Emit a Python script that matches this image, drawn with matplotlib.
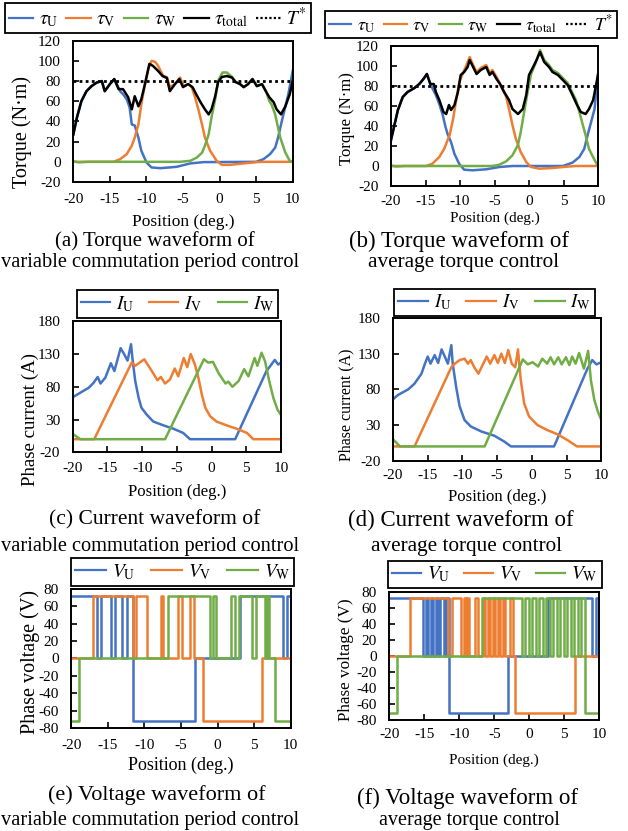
import matplotlib
matplotlib.use("Agg")
import matplotlib.pyplot as plt
from matplotlib.lines import Line2D

plt.rcParams['font.family'] = ['Liberation Serif', 'DejaVu Serif']
plt.rcParams['mathtext.fontset'] = 'stix'
plt.rcParams['axes.unicode_minus'] = False

C_U, C_V, C_W = '#4472C4', '#ED7D31', '#70AD47'

# ---------------- (a) torque, variable commutation period control
pos_a_total = [-20,-19.5,-18.9,-18.2,-17.5,-16.8,-16.1,-15.7,-15,-14.4,-13.8,-13.2,-12.5,-12,-11.6,-11.1,-10.7,-10.2,-9.6,-9.1,
               -8.4,-7.8,-7.2,-6.8,-6.1,-5.5,-5,-4.3,-3.7,-3.2,-2.6,-2,-1.5,-1.1,-0.6,-0.2,0.3,1,1.7,2.2,
               2.8,3.3,3.9,4.5,5.1,5.8,6.4,6.8,7.4,7.8,8.4,9,9.6,10]
tau_a_total = [27,44,60,70,75,78.5,80,70,77,82,72,72,64,52,65,55,62,77,97,95,
               90,85,83,70,77,82,74,77,74,67,59,52,47,52,65,79,84,85,83.5,79,
               77,74,77,82,75,77,69,64,59,52,47,55,67,80]
pos_a_U = [-20,-19.5,-18.9,-18.2,-17.5,-16.8,-16.1,-15.7,-15,-14.4,-13.6,-13.2,-12.7,-12.3,-12,-11.6,-11.1,-10.7,-10,-9.3,
           -8.1,-5.9,-4,-2.2,5,6,6.9,7.6,8,8.5,9,9.4,10]
tau_a_U = [27,44,60,70,75,78.5,80,70,77,82,70,67,62,54,37,36,24,11,-0.6,-5.6,
           -6.3,-5,-1.6,-0.3,0,2.6,7.6,14,24,40,55,67,90]
pos_a_V = [-20,-14.5,-13.6,-12.7,-12,-11.6,-11.1,-10.7,-10.2,-9.7,-9.3,-8.8,-8.4,-7.7,-7.2,-6.8,-6.1,-5.4,-4.9,-4.3,
           -3.8,-3.4,-2.9,-2.4,-2,-1.3,-0.4,0.3,1.4,3.3,5.1,6,10]
tau_a_V = [0,0,2.6,7.6,16,24,37,57,77,93,100,99,95,85,84,74,77,83.5,75,77,
           74,65,52,37,24,11,1,-3,-3,-1.6,-0.3,0,0]
pos_a_W = [-20,-19.3,-18,-5.4,-4,-3.1,-2.4,-2,-1.5,-1.1,-0.6,-0.2,0.4,1,1.7,2.2,2.8,3.3,3.9,4.5,
           5.1,5.8,6.4,6.8,7.1,7.6,7.9,8.3,9,9.6,10]
tau_a_W = [0.5,-0.5,0,0,1,4.3,9,16,27,44,62,80,88.5,88.5,84,79,77,74,77,82,
           75,77,69,60,57,47,37,24,9,1,0]

# ---------------- (b) torque, average torque control
pos_b_total = [-20,-19.5,-19,-18.3,-17.6,-16.6,-15.9,-15.3,-14.8,-14.3,-13.8,-13.5,-13,-12.4,-12,-11.6,-11.3,-10.8,-10.3,-9.9,
               -9.4,-8.9,-8.6,-8.1,-7.6,-7,-6.2,-5.7,-5.3,-4.7,-4.2,-3.6,-2.9,-2.4,-1.6,-0.9,-0.4,0,0.6,1.1,
               1.6,2.2,2.9,3.4,4.2,4.9,5.6,6.3,6.9,7.5,8.2,8.7,9.3,10]
tau_b_total = [26,41,56,69,74,78,82,87,92,82,82,74,66,54,52,61,56,61,74,91,
               94,99,106,99,92,96,99,91,94,87,82,74,66,57,52,57,71,91,99,106,
               114,104,99,94,91,86,81,71,62,54,52,57,66,91]
pos_b_U = [-20,-19.5,-19,-18.3,-17.6,-16.6,-15.9,-15.3,-14.8,-14.3,
           -13.5,-13,-12.5,-12.1,-11.8,-11.3,-10.8,-10.1,-9.4,-8.2,-6.2,-4.3,-2.4,4.9,6.3,7.3,8,8.5,9,9.5,10]
tau_b_U = [26,41,56,69,74,78,82,87,92,82,
           71,62,51,39,32,24,12,2,-3.7,-4.3,-3.3,-1,0,0,3.3,9,17,31,44,57,92]
pos_b_V = [-20,-14.9,-14,-13,-12.3,-11.5,-11,-10.6,-10.1,-9.5,-9,-8.6,-8.1,-7.6,-7,-6.2,-5.7,-5.3,-4.7,-4.1,
           -3.3,-2.8,-2.4,-1.9,-1.2,-0.4,0.3,1.5,3.4,5.4,6.8,10]
tau_b_V = [0,0,2.3,9,17,31,47,64,84,94,102,109,101,94,98,101,93,96,89,81,
           69,54,41,27,14,4,-1,-2.7,-2,-0.7,0,0]
pos_b_W = [-20,-19.3,-18,-5.3,-4.3,-3.3,-2.4,-1.6,-1.2,-0.7,-0.2,0.3,0.9,1.6,2.2,2.9,3.4,4.2,4.9,5.6,
           6.3,6.8,7.3,7.8,8.2,8.7,9.5,10]
tau_b_W = [0.5,-0.5,0,0,1.3,4.7,10.7,21,34,54,74,92,102,116,106,101,96,93,88,83,
           73,66,54,41,31,17,6,0]
T_ref = 80

# ---------------- (c) current, variable commutation period control
pos_c_U = [-20,-18.9,-17.7,-17,-16.4,-16,-15.3,-14.5,-14,-13.1,-12.6,-12.1,-11.6,-11.4,-11,-10.5,-10.1,-9.3,-8.4,-6.9,
           -5.5,-4.1,-3.1,3.4,7.9,9.1,9.6,10]
I_c_U = [64,71,78.5,86,95,85,94,116,104,139,130,120,145,124,89,63,48,37,27,21,
         16,9.6,0,0,104,121,114,117]
pos_c_V = [-20,-16.9,-11.5,-11,-9.7,-8.6,-7.8,-7.3,-6.7,-6,-5.3,-4.8,-4,-3.5,-3,-2.4,-1.9,-1.4,-0.9,-0.2,
           0.7,2.2,3.6,5.1,6,10]
I_c_V = [0,0,117,112,122,104,90,95,85,91,108,96,124,110,130,114,94,68,48,35,
         27,21,16,9.6,0,0]
pos_c_W = [-20,-18.9,-6.7,-1.1,-0.5,0.2,1,2,2.4,3,3.9,4.7,5.3,6.2,6.6,7.2,7.7,8.3,8.9,9.5,10]
I_c_W = [8,0,0,122,117,118,101,85,88,80,89,107,96,124,112,132,119,89,63,45,37]

# ---------------- (d) current, average torque control
pos_d_U = [-20,-19.3,-17.8,-16.9,-15.9,-15.4,-15,-14.6,-14,-13.5,-13,-12.5,-12.1,-11.6,-11.4,-10.9,-10.4,-9.7,-8.8,-7.3,
           -5.4,-4,-3,3.2,8,8.7,9.3,10]
I_d_U = [66,72,80,88,102,116,126,116,128,117,136,125,116,142,116,83,56,37,28,21,
         15,7,0,0,109,121,115,118]
pos_d_V = [-20,-16.9,-11.6,-11.1,-10.4,-9.7,-9.2,-8.8,-8.3,-7.7,-7.1,-6.5,-6,-5.4,-4.9,-4.4,-3.9,-3.4,-2.9,-2.4,
           -2,-1.6,-1.1,-0.4,0.8,2.2,3.7,5.1,6.5,10]
I_d_V = [0,0,111,116,121,123,116,121,111,102,114,126,116,128,117,130,117,135,116,111,
         136,93,60,42,30,23,17,9,0,0]
pos_d_W = [-20,-19,-6.8,-1.3,-0.6,0.1,0.9,1.5,2.2,2.7,3.2,3.8,4.3,4.9,5.4,5.8,6.3,6.8,7.5,8.1,
           8.5,9,9.5,10]
I_d_W = [10,0,0,122,115,118,112,123,116,125,115,125,115,125,114,126,116,131,109,134,
         93,65,49,37]

# ---------------- (e) voltage, variable commutation period control (step, post)
pos_e_U = [-20,-16.5,-16.0,-14.6,-14.0,-13.1,-12.4,-11.6,-3.1,3.1,9.0,9.5,10]
V_e_U = [72,0,72,0,72,0,72,-72,0,72,0,72,72]
pos_e_V = [-20,-17.0,-11.6,-11.1,-9.7,-7.8,-7.4,-5.4,-4.9,-3.8,-3.2,-2.0,6.1,10]
V_e_V = [0,72,0,72,0,72,0,72,0,72,0,-72,0,0]
pos_e_W = [-20,-18.9,-6.8,-1.1,-0.6,-0.2,1.9,2.4,2.9,4.7,5.2,6.5,6.8,7.1,7.9,10]
V_e_W = [-72,0,72,0,72,0,72,0,72,0,72,0,72,0,-72,-72]

# ---------------- (f) voltage, average torque control
pos_f_U = [-20,-15.2,-14.8,-14.5,-14.1,-13.8,-13.4,-13.1,-12.7,-12.2,-11.9,-11.5,-3.0,2.6,9.0,9.5,10]
V_f_U = [72,0,72,0,72,0,72,0,72,0,72,-72,0,72,0,72,72]
pos_f_V = [-20,-17,-11.6,-11.1,-9.7,-9.4,-9.1,-8.9,-8.6,-7.7,-7.3,-6.6,-6.3,-5.9,-5.6,-5.2,-4.9,-4.5,-4.2,-3.8,
           -3.5,-2.8,-2.3,-2.1,6.5,10]
V_f_V = [0,72,0,72,0,72,0,72,0,72,0,72,0,72,0,72,0,72,0,72,
         0,72,0,-72,0,0]
pos_f_W = [-20,-18.9,-6.8,-1.0,-0.6,0.0,0.4,1.0,1.4,2.0,2.4,3.0,3.4,4.0,4.4,5.0,5.4,6.0,6.4,7.0,7.4,8.0,10]
V_f_W = [-72,0,72,0,72,0,72,0,72,0,72,0,72,0,72,0,72,0,72,0,72,-72,-72]

xticks = [-20, -15, -10, -5, 0, 5, 10]
torque_ticks = [-20, 0, 20, 40, 60, 80, 100, 120]
current_ticks = [-20, 30, 80, 130, 180]
voltage_ticks = [-80, -60, -40, -20, 0, 20, 40, 60, 80]

W, H = 628, 831
fig = plt.figure(figsize=(W / 100, H / 100), dpi=100)


def add_ax(l, t, r, b):
    return fig.add_axes([l / W, 1 - b / H, (r - l) / W, (b - t) / H])


def style(ax, box, yticks, ylabel, ylab_x, ylab_y, xlab_y, yfs, xfs, xpad):
    l, t, r, b = box
    ax.set_xlim(-20, 10)
    ax.set_ylim(yticks[0], yticks[-1])
    ax.set_xticks(xticks)
    ax.set_yticks(yticks)
    ax.tick_params(direction='in', length=4, width=1.2, labelsize=11)
    ax.tick_params(axis='x', pad=xpad)
    ax.tick_params(axis='y', pad=9)
    for s in ax.spines.values():
        s.set_linewidth(1.4)
    ax.set_xlabel('Position (deg.)', fontsize=xfs)
    ax.xaxis.label.set_va('center')
    ax.xaxis.set_label_coords(0.5, -(xlab_y - b) / (b - t))
    ax.set_ylabel(ylabel, fontsize=yfs)
    ax.yaxis.label.set_va('center')
    ax.yaxis.label.set_ha('center')
    ax.yaxis.set_label_coords((ylab_x - l) / (r - l), (b - ylab_y) / (b - t))


def legend(labels, colors, styles, box, fs, hl, cs):
    x0, y0, x1, y1 = box
    handles = [Line2D([], [], color=c, lw=1.6, ls=s) for c, s in zip(colors, styles)]
    lg = fig.legend(handles, labels, loc='center',
                    bbox_to_anchor=((x0 + x1) / 2 / W, 1 - (y0 + y1) / 2 / H),
                    ncol=len(labels), fontsize=fs, frameon=True, fancybox=False,
                    edgecolor='black', framealpha=1, handlelength=hl, handletextpad=0.3,
                    columnspacing=cs, borderpad=0.2, borderaxespad=0)
    lg.get_frame().set_linewidth(1.3)


lw = 1.8
tau_labels = [r'$\tau_{\mathrm{U}}$', r'$\tau_{\mathrm{V}}$', r'$\tau_{\mathrm{W}}$',
              r'$\tau_{\mathrm{total}}$', r'$T^{*}$']
tau_colors = [C_U, C_V, C_W, 'black', 'black']
tau_styles = ['-', '-', '-', '-', (0, (1, 1))]
i_labels = [r'$I_{\mathrm{U}}$', r'$I_{\mathrm{V}}$', r'$I_{\mathrm{W}}$']
v_labels = [r'$V_{\mathrm{U}}$', r'$V_{\mathrm{V}}$', r'$V_{\mathrm{W}}$']
phase_colors = [C_U, C_V, C_W]

# (a)
box = (73.3, 40.7, 292.7, 182)
ax = add_ax(*box)
ax.plot(pos_a_U, tau_a_U, color=C_U, lw=lw)
ax.plot(pos_a_V, tau_a_V, color=C_V, lw=lw)
ax.plot(pos_a_W, tau_a_W, color=C_W, lw=lw)
ax.plot(pos_a_total, tau_a_total, color='black', lw=lw)
ax.axhline(T_ref, color='black', lw=2, ls=(0, (1, 1.2)))
style(ax, box, torque_ticks, 'Torque (N·m)', 22, 132, 222, 14.5, 12.5, 8)
legend(tau_labels, tau_colors, tau_styles, (3, 4, 313, 32), 14, 1.25, 0.4)

# (b)
box = (391, 46, 598, 186)
ax = add_ax(*box)
ax.plot(pos_b_U, tau_b_U, color=C_U, lw=lw)
ax.plot(pos_b_V, tau_b_V, color=C_V, lw=lw)
ax.plot(pos_b_W, tau_b_W, color=C_W, lw=lw)
ax.plot(pos_b_total, tau_b_total, color='black', lw=lw)
ax.axhline(T_ref, color='black', lw=2, ls=(0, (1, 1.2)))
style(ax, box, torque_ticks, 'Torque (N·m)', 347, 119, 218, 12, 11, 6.5)
legend(tau_labels, tau_colors, tau_styles, (326, 12, 616, 37), 13, 1.25, 0.5)

# (c)
box = (72.7, 321.3, 281, 452.3)
ax = add_ax(*box)
ax.plot(pos_c_U, I_c_U, color=C_U, lw=lw)
ax.plot(pos_c_V, I_c_V, color=C_V, lw=lw)
ax.plot(pos_c_W, I_c_W, color=C_W, lw=lw)
style(ax, box, current_ticks, 'Phase current (A)', 30, 419, 492, 13.6, 12, 7)
legend(i_labels, phase_colors, ['-'] * 3, (93, 292, 262, 316), 14, 1.5, 0.8)

# (d)
box = (393, 318, 601.3, 460.7)
ax = add_ax(*box)
ax.plot(pos_d_U, I_d_U, color=C_U, lw=lw)
ax.plot(pos_d_V, I_d_V, color=C_V, lw=lw)
ax.plot(pos_d_W, I_d_W, color=C_W, lw=lw)
style(ax, box, current_ticks, 'Phase current (A)', 346, 405, 497, 11.5, 12, 6)
legend(i_labels, phase_colors, ['-'] * 3, (407, 292, 582, 313), 13.5, 1.6, 0.8)

# (e)
box = (71.3, 588.7, 290.7, 728)
ax = add_ax(*box)
ax.step(pos_e_U, V_e_U, where='post', color=C_U, lw=lw)
ax.step(pos_e_V, V_e_V, where='post', color=C_V, lw=lw)
ax.step(pos_e_W, V_e_W, where='post', color=C_W, lw=lw)
style(ax, box, voltage_ticks, 'Phase voltage (V)', 30, 662, 765, 14.5, 13, 8)
legend(v_labels, phase_colors, ['-'] * 3, (92, 560, 273, 584), 14, 1.6, 0.8)

# (f)
box = (389.3, 592, 599.3, 719.7)
ax = add_ax(*box)
ax.step(pos_f_U, V_f_U, where='post', color=C_U, lw=lw)
ax.step(pos_f_V, V_f_V, where='post', color=C_V, lw=lw)
ax.step(pos_f_W, V_f_W, where='post', color=C_W, lw=lw)
style(ax, box, voltage_ticks, 'Phase voltage (V)', 346, 660, 760, 12.3, 11, 6)
legend(v_labels, phase_colors, ['-'] * 3, (408, 561, 582, 588), 14, 1.5, 0.7)

# captions (x, y, text, fontsize)
caps = [
    (155, 241, '(a) Torque waveform of', 15), (150, 263, 'variable commutation period control', 14.7),
    (459, 241, '(b) Torque waveform of', 16.5), (464, 263, 'average torque control', 15.3),
    (155, 520, '(c) Current waveform of', 15.5), (150, 547, 'variable commutation period control', 14.7),
    (461, 520, '(d) Current waveform of', 16.5), (467, 547, 'average torque control', 15.3),
    (157, 795, '(e) Voltage waveform of', 16), (150, 820, 'variable commutation period control', 14.7),
    (468, 798, '(f) Voltage waveform of', 16.5), (469, 821, 'average torque control', 14.5),
]
for x, y, s, fs in caps:
    fig.text(x / W, 1 - y / H, s, ha='center', va='center', fontsize=fs)

fig.savefig('out.png', dpi=100)
